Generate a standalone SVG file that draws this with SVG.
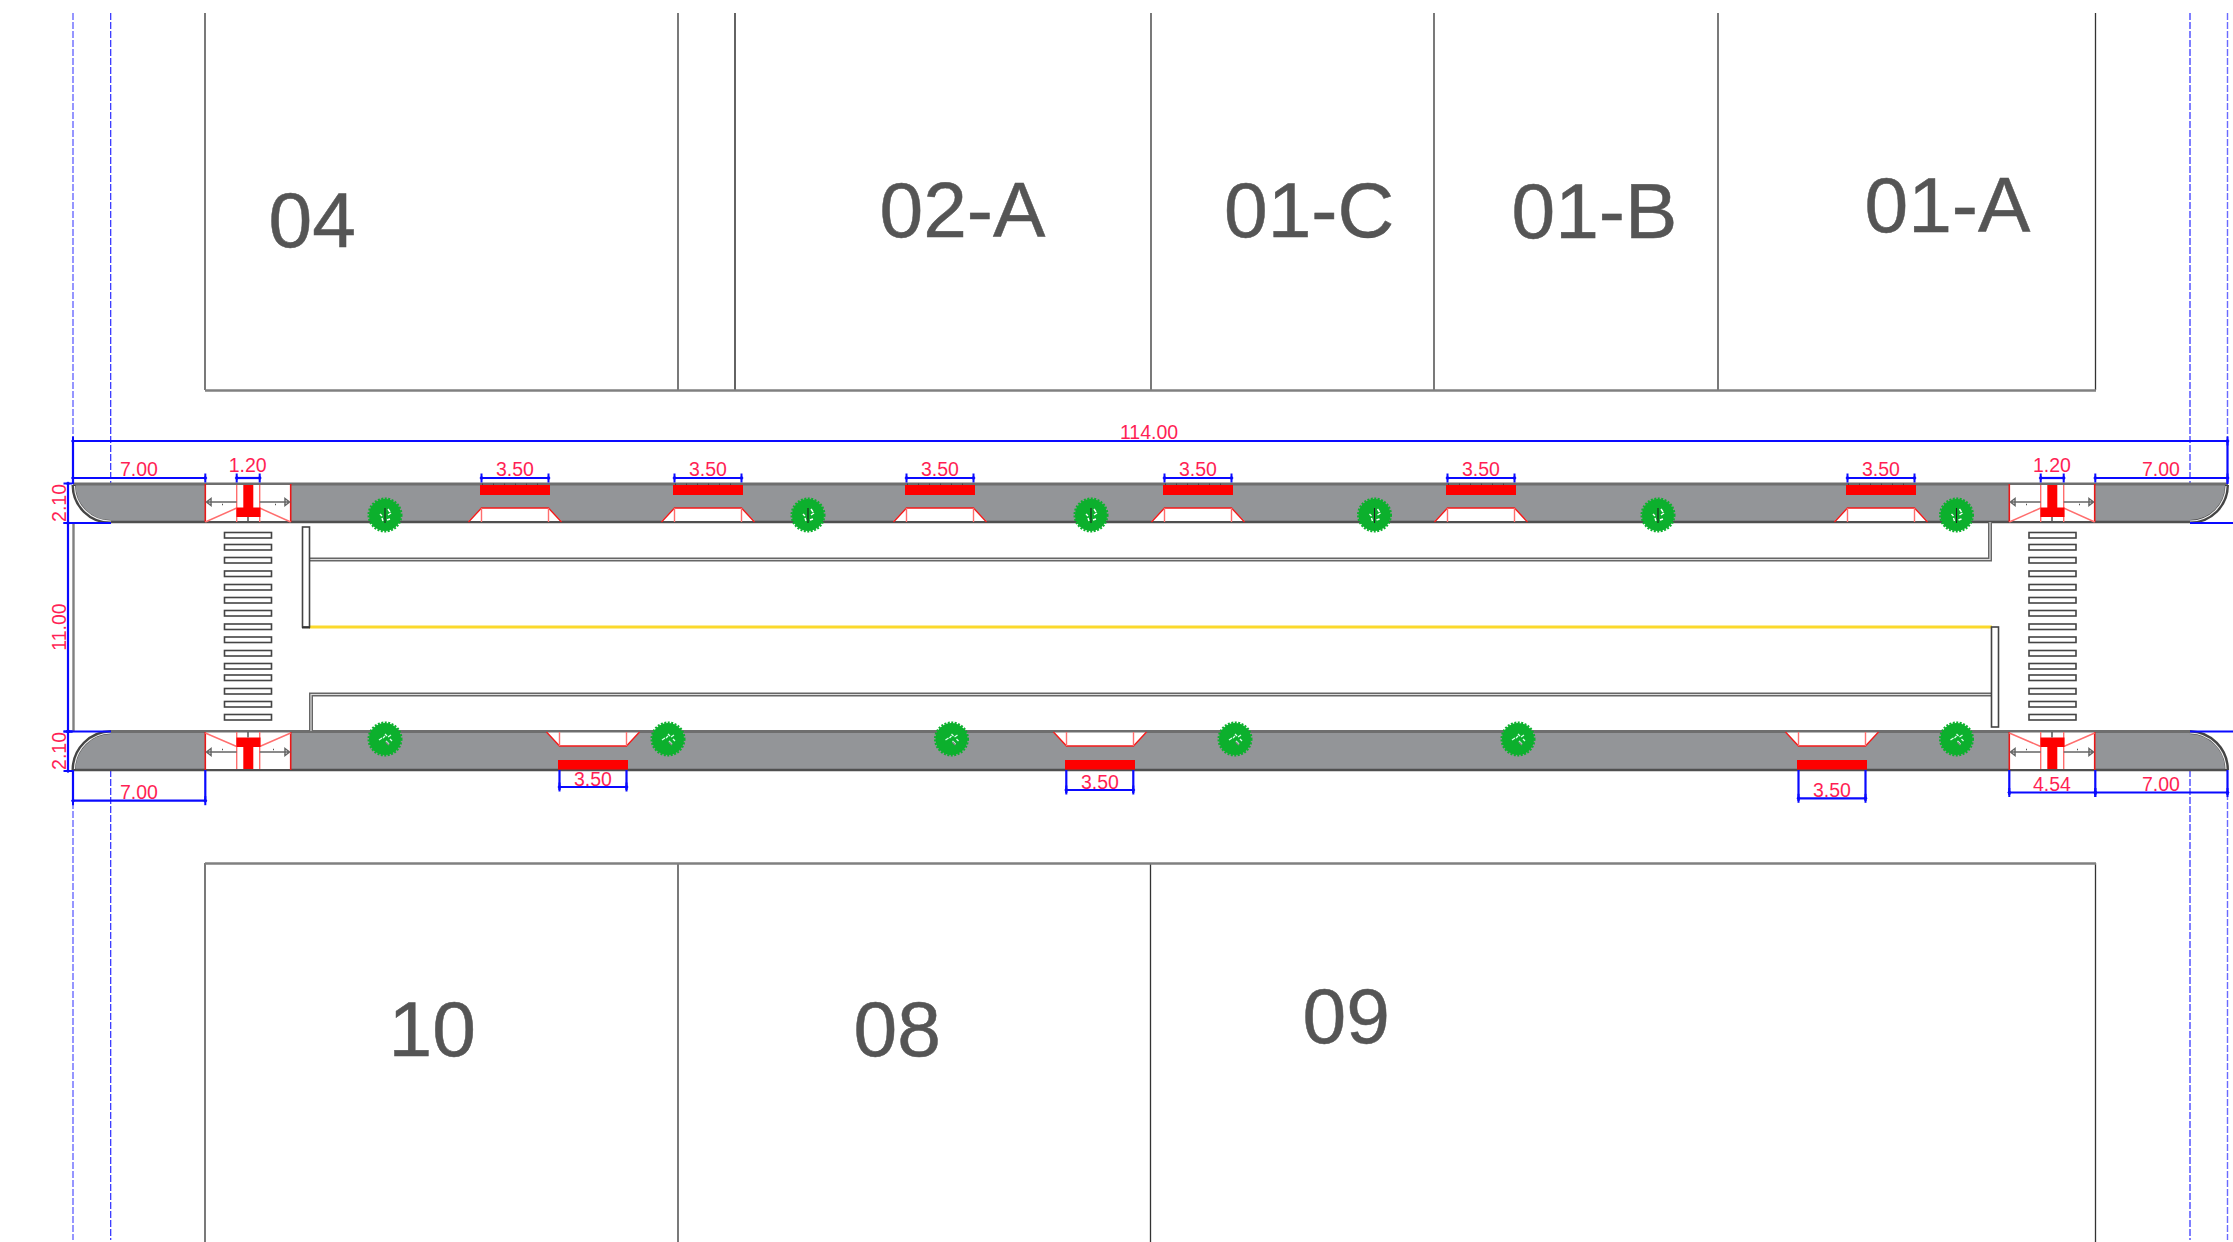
<svg xmlns="http://www.w3.org/2000/svg" xmlns:xlink="http://www.w3.org/1999/xlink" width="2233" height="1242" viewBox="0 0 2233 1242">
<style>
text{font-family:"Liberation Sans",Arial,sans-serif}
.lbl{font-size:78.5px;fill:#555;stroke:#555;stroke-width:.5}
.dt{font-size:19.5px;fill:#ff1f55;text-anchor:middle}
.b{stroke:#333;stroke-width:1.3;fill:none}
.bg{stroke:#808080;stroke-width:2.4;fill:none}
.dim{stroke:#0a0aff;stroke-width:2.2;fill:none;marker-start:url(#tk);marker-end:url(#tk)}
.ext{stroke:#0a0aff;stroke-width:2.2;fill:none}
.dash{stroke:#2a2aff;stroke-width:1.2;stroke-dasharray:7 2;fill:none}
.dashl{stroke:#6a6aff;stroke-width:1.4;stroke-dasharray:7 2;fill:none}
.road{fill:#939598;stroke:none}
.edge{stroke:#4f4f4f;stroke-width:2.6;fill:none}
.edgel{stroke:#6e6e6e;stroke-width:2.8;fill:none}
.arc1{stroke:#444;stroke-width:4;fill:none}
.arc2{stroke:#eee;stroke-width:1.2;fill:none}
.rail1{stroke:#666;stroke-width:4;fill:none}
.rail2{stroke:#ddd;stroke-width:1.2;fill:none}
.stripe{fill:#fff;stroke:#444;stroke-width:1.6}
.post{fill:#fff;stroke:#444;stroke-width:1.6}
.red{fill:#fe0000}
.rl{stroke:#f31a1a;stroke-width:1.4;fill:none}
.rl2{stroke:#ff6e6e;stroke-width:1.4;fill:none}
.rv{stroke:#e81818;stroke-width:1.6;fill:none}
.ar{stroke:#666;stroke-width:1.5;fill:none}
.tree{fill:#0cb02d}
.treeb{fill:none;stroke:#0cb02d;stroke-width:2;stroke-dasharray:2 1.5}
</style>
<defs>
<marker id="tk" markerUnits="userSpaceOnUse" markerWidth="12" markerHeight="14" refX="6" refY="7" orient="auto">
<path d="M6,2.5V11.5" stroke="#0a0aff" stroke-width="2" fill="none"/>
<path d="M6,4.5L8,7L6,9.5L4,7Z" fill="#0a0aff"/>
</marker>
<g id="treeT">
<circle class="tree" r="16"/><circle class="treeb" r="16.500"/>
<path d="M0,-7V8" stroke="#222" stroke-width="1.100"/>
<path d="M-5,-1L-3,1M3,-6L5,-3M3,0L6,-2M2,5L5,4M-3,3L-2,6" stroke="#fff" stroke-width="1.400"/>
</g>
<g id="treeB">
<circle class="tree" r="16"/><circle class="treeb" r="16.500"/>
<path d="M-6,1L-3,-1M0,-5L2,-3M-2,-1L0,-3M3,-2L6,-4M1,2L4,5M5,0L7,2" stroke="#dfe" stroke-width="1.300"/>
<path d="M1,3L4,6" stroke="#888" stroke-width="1.500"/>
</g>
<g id="stopT">
<rect class="red" x="-35" y="485" width="70" height="10"/>
<path d="M-33,484.300H33" stroke="#444" stroke-width="1.500" stroke-dasharray="1 10"/>
<path d="M-46.500,521L-33.500,508H33.500L46.500,521Z" fill="#fff" stroke="none"/>
<path class="rl" d="M-46.500,522L-33.500,508H33.500L46.500,522"/>
<path class="rl2" d="M-33.500,508V522M33.500,508V522"/>
</g>
<g id="stopB">
<rect class="red" x="-35" y="760" width="70" height="9.500"/>
<path d="M-46.500,732.500L-33.500,746H33.500L46.500,732.500Z" fill="#fff" stroke="none"/>
<path class="rl" d="M-46.500,732L-33.500,746H33.500L46.500,732"/>
<path class="rl2" d="M-33.500,732V746M33.500,732V746"/>
</g>
<g id="crossT">
<rect x="205" y="485" width="85.500" height="36" fill="#fff"/>
<path class="rv" d="M205.300,484V522M290.700,484V522"/>
<path class="rl2" d="M236.700,485V522M259.700,485V522M205.300,522L236.700,508M259.700,508L290.700,522"/>
<rect class="red" x="243.300" y="485" width="10" height="24"/>
<rect class="red" x="236.500" y="507.500" width="24" height="9.500"/>
<path class="ar" d="M207,502H236.700M259.700,502H289M211,498.500L206.500,502L211,505.500ZM285,498.500L289.500,502L285,505.500Z"/>
<path d="M222,504.500h1M275,504.500h1M248,517V522" stroke="#555" stroke-width="1.500"/>
</g>
<g id="crossB">
<rect x="205" y="732.500" width="85.500" height="36.500" fill="#fff"/>
<path class="rv" d="M205.300,732V770M290.700,732V770"/>
<path class="rl2" d="M236.700,732V769M259.700,732V769M205.300,733L236.700,746.500M259.700,746.500L290.700,733"/>
<rect class="red" x="243.300" y="746" width="10" height="23"/>
<rect class="red" x="236.500" y="737.500" width="24" height="9.500"/>
<path class="ar" d="M207,752H236.700M259.700,752H289M211,748.500L206.500,752L211,755.500ZM285,748.500L289.500,752L285,755.500Z"/>
<path d="M222,749.500h1M273,749.500h1M248,732V737.500" stroke="#555" stroke-width="1.500"/>
</g>
<g id="stripes">
<rect class="stripe" x="224.500" y="532.500" width="47" height="5.500"/>
<rect class="stripe" x="224.500" y="544.500" width="47" height="5.500"/>
<rect class="stripe" x="224.500" y="557.500" width="47" height="5.500"/>
<rect class="stripe" x="224.500" y="571" width="47" height="5.500"/>
<rect class="stripe" x="224.500" y="584.500" width="47" height="5.500"/>
<rect class="stripe" x="224.500" y="597.500" width="47" height="5.500"/>
<rect class="stripe" x="224.500" y="610.500" width="47" height="5.500"/>
<rect class="stripe" x="224.500" y="624" width="47" height="5.500"/>
<rect class="stripe" x="224.500" y="637" width="47" height="5.500"/>
<rect class="stripe" x="224.500" y="650.500" width="47" height="5.500"/>
<rect class="stripe" x="224.500" y="663.500" width="47" height="5.500"/>
<rect class="stripe" x="224.500" y="675" width="47" height="5.500"/>
<rect class="stripe" x="224.500" y="688.500" width="47" height="5.500"/>
<rect class="stripe" x="224.500" y="701.500" width="47" height="5.500"/>
<rect class="stripe" x="224.500" y="714.500" width="47" height="5.500"/>
</g>
</defs>

<g id="plots">
<path class="b" d="M205,13V390M678,13V390M1151,13V390M1434,13V390M1718,13V390M2095.500,13V390"/>
<path d="M735,13V390" stroke="#222" stroke-width="1.400"/>
<path class="bg" d="M205,390.500H2096"/>
<path class="b" d="M205,863V1242M678,863V1242M1150.500,863V1242M2095.500,863V1242"/>
<path class="bg" d="M205,863.500H2096"/>
<text id="plot-04" class="lbl" x="268.500" y="247">04</text>
<text id="plot-02-A" class="lbl" x="879.500" y="236.500">02-A</text>
<text id="plot-01-C" class="lbl" x="1224" y="236.500">01-C</text>
<text id="plot-01-B" class="lbl" x="1511.500" y="237.500">01-B</text>
<text id="plot-01-A" class="lbl" x="1864.500" y="231.500">01-A</text>
<text id="plot-10" class="lbl" x="388.500" y="1056">10</text>
<text id="plot-08" class="lbl" x="853.500" y="1056">08</text>
<text id="plot-09" class="lbl" x="1302.500" y="1043">09</text>
</g>

<g id="guides">
<path class="dashl" d="M73,13V440M2227.500,13V440M73,802V1240M2227.500,793V1240"/>
<path class="dash" d="M110.700,13V484M2190,13V484M110.700,770V1240M2190,770V1240"/>
<path class="bg" d="M73.500,523V731"/>
</g>

<g id="roads">
<path class="road" d="M73,484A38,38 0 0 0 111,522H2190A38,38 0 0 0 2228,484Z"/>
<path class="road" d="M73,770A39,39 0 0 1 111,731.500H2190A39,39 0 0 1 2228,770Z"/>
<path class="edgel" d="M73,484H2228"/>
<path class="edge" d="M111,522H2190M111,770H2228M73,770H111"/>
<path class="edgel" d="M111,731.500H2190"/>
<path class="arc1" d="M73.500,485A37,37 0 0 0 111,522M2227,485A37,37 0 0 1 2190,522M73.500,770A38,38 0 0 1 111,732M2227,770A38,38 0 0 0 2190,732"/>
<path class="arc2" d="M74.500,486A36,36 0 0 0 111,521M2226,486A36,36 0 0 1 2190,521M74.500,769A37,37 0 0 1 111,733M2226,769A37,37 0 0 0 2190,733"/>
</g>

<g id="islands">
<use id="stop-t1" xlink:href="#stopT" href="#stopT" x="515"/>
<use id="stop-t2" xlink:href="#stopT" href="#stopT" x="708"/>
<use id="stop-t3" xlink:href="#stopT" href="#stopT" x="940"/>
<use id="stop-t4" xlink:href="#stopT" href="#stopT" x="1198"/>
<use id="stop-t5" xlink:href="#stopT" href="#stopT" x="1481"/>
<use id="stop-t6" xlink:href="#stopT" href="#stopT" x="1881"/>
<use id="stop-b1" xlink:href="#stopB" href="#stopB" x="593"/>
<use id="stop-b2" xlink:href="#stopB" href="#stopB" x="1100"/>
<use id="stop-b3" xlink:href="#stopB" href="#stopB" x="1832"/>
<use id="cross-tl" xlink:href="#crossT" href="#crossT"/>
<use id="cross-bl" xlink:href="#crossB" href="#crossB"/>
<use id="cross-tr" xlink:href="#crossT" href="#crossT" x="1804"/>
<use id="cross-br" xlink:href="#crossB" href="#crossB" x="1804"/>
<use id="stripes-l" xlink:href="#stripes" href="#stripes"/>
<use id="stripes-r" xlink:href="#stripes" href="#stripes" x="1804.500"/>
</g>

<g id="median">
<path class="rail1" d="M309,559.500H1990V522"/>
<path class="rail2" d="M309,559.500H1990V522"/>
<path class="rail1" d="M311,731V694.500H1991"/>
<path class="rail2" d="M311,731V694.500H1991"/>
<path d="M309,627H1992" stroke="#fbd92c" stroke-width="3.200" fill="none"/>
<rect class="post" x="302.500" y="527" width="7" height="100"/>
<path d="M302,627.500H310" stroke="#333" stroke-width="2"/>
<rect class="post" x="1991.500" y="627" width="7" height="100"/>
</g>

<g id="trees">
<use xlink:href="#treeT" href="#treeT" x="385" y="515"/>
<use xlink:href="#treeT" href="#treeT" x="808" y="515"/>
<use xlink:href="#treeT" href="#treeT" x="1091" y="515"/>
<use xlink:href="#treeT" href="#treeT" x="1374.500" y="515"/>
<use xlink:href="#treeT" href="#treeT" x="1658" y="515"/>
<use xlink:href="#treeT" href="#treeT" x="1956.500" y="515"/>
<use xlink:href="#treeB" href="#treeB" x="385" y="739"/>
<use xlink:href="#treeB" href="#treeB" x="668" y="739"/>
<use xlink:href="#treeB" href="#treeB" x="951.500" y="739"/>
<use xlink:href="#treeB" href="#treeB" x="1235" y="739"/>
<use xlink:href="#treeB" href="#treeB" x="1518" y="739"/>
<use xlink:href="#treeB" href="#treeB" x="1956.500" y="739"/>
</g>

<g id="connectors">
<path class="ext" d="M73,441V484M2227.500,441V484M2190,523H2233M2190,731.500H2233M111,523H66M111,731.500H66M73,770V802M205.300,770V802M2009.300,770V795M2095.300,770V795M2227.500,770V795M559.500,770V790M626.500,770V790M1066.300,770V793M1133.300,770V793M1798.500,770V801M1865.500,770V801"/>
<path class="dim" d="M73,441H2227.500"/>
<path class="dim" d="M73,478H205.300"/>
<path class="dim" d="M236.700,478H259.700"/>
<path class="dim" d="M2040.700,478H2063.700"/>
<path class="dim" d="M2095.300,478H2227.500"/>
<path class="dim" d="M481.500,478H548.500"/>
<path class="dim" d="M674.500,478H741.500"/>
<path class="dim" d="M906.500,478H973.500"/>
<path class="dim" d="M1164.500,478H1231.500"/>
<path class="dim" d="M1447.500,478H1514.500"/>
<path class="dim" d="M1847.500,478H1914.500"/>
<path class="dim" d="M68,483.500V523"/>
<path class="dim" d="M68,523V731.500"/>
<path class="dim" d="M68,731.500V771"/>
<path class="dim" d="M73,800.700H205.300"/>
<path class="dim" d="M559.500,787H626.500"/>
<path class="dim" d="M1066.300,790H1133.300"/>
<path class="dim" d="M1798.500,798.300H1865.500"/>
<path class="dim" d="M2009.300,792.500H2095.300"/>
<path class="dim" d="M2095.300,792.500H2227.500"/>
</g>

<g id="dim-labels">
<text class="dt" x="1149" y="439">114.00</text>
<text class="dt" x="139" y="476">7.00</text>
<text class="dt" x="247.700" y="471.500">1.20</text>
<text class="dt" x="2052" y="471.500">1.20</text>
<text class="dt" x="2161" y="476">7.00</text>
<text class="dt" x="515" y="476">3.50</text>
<text class="dt" x="708" y="476">3.50</text>
<text class="dt" x="940" y="476">3.50</text>
<text class="dt" x="1198" y="476">3.50</text>
<text class="dt" x="1481" y="476">3.50</text>
<text class="dt" x="1881" y="476">3.50</text>
<text class="dt" x="139" y="799">7.00</text>
<text class="dt" x="593" y="786">3.50</text>
<text class="dt" x="1100" y="789">3.50</text>
<text class="dt" x="1832" y="797">3.50</text>
<text class="dt" x="2052" y="791">4.54</text>
<text class="dt" x="2161" y="791">7.00</text>
<text class="dt" transform="translate(65.500,503) rotate(-90)">2.10</text>
<text class="dt" transform="translate(65.500,627) rotate(-90)">11.00</text>
<text class="dt" transform="translate(65.500,751) rotate(-90)">2.10</text>
</g>
</svg>
